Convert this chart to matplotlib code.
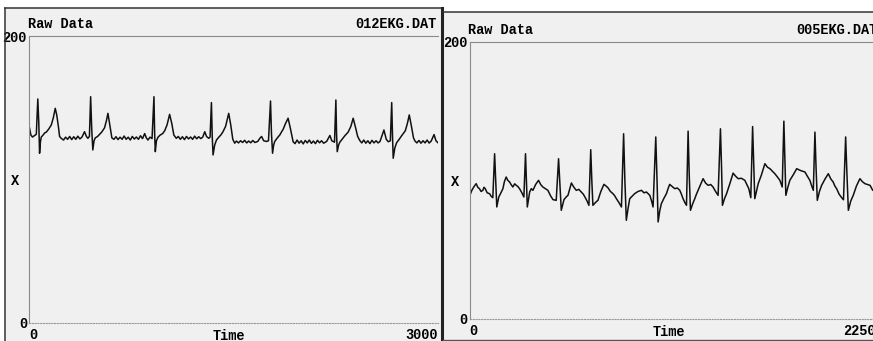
import matplotlib
matplotlib.use('Agg')
import matplotlib.pyplot as plt
from matplotlib.patches import Rectangle
import numpy as np

# (sample, value)
ekg012 = [
    (0, 135.9), (10, 131), (22, 129.6), (35, 130.5), (50, 131.5), (61, 156.1), (68, 140), (74, 118.3),
    (80, 126), (86, 129.5), (100, 131), (112, 132.5), (123, 133), (140, 135), (160, 138), (175, 143),
    (189, 149.6), (200, 145), (212, 137), (221, 130), (233, 128.7),
    (250, 127.5), (265, 129.5), (280, 128), (295, 130), (310, 127.8), (325, 129.8), (340, 128),
    (355, 130.2), (370, 128.3), (385, 129.5), (404, 133.3), (418, 130), (429, 128.7), (440, 130),
    (449, 157.7), (457, 135), (465, 120.6), (474, 127), (483, 129), (500, 130), (515, 131.5),
    (530, 133), (551, 136), (565, 141), (576, 146.1), (590, 138), (605, 129), (620, 128),
    (635, 129.8), (650, 127.8), (665, 129.5), (680, 128), (695, 130.3), (710, 128), (725, 129.5),
    (740, 127.5), (755, 130), (770, 128.2), (785, 129.6), (800, 128), (815, 130.5), (830, 128.5),
    (846, 132), (858, 129), (870, 127.5), (885, 129.5), (900, 128.5), (914, 157.7), (919, 132),
    (924, 119.4), (932, 127), (944, 129.5), (960, 131), (978, 132), (993, 134), (1010, 138),
    (1029, 145.4), (1045, 139), (1060, 131), (1078, 128.7),
    (1093, 130), (1108, 128), (1123, 129.8), (1138, 127.8), (1153, 130), (1168, 128.3), (1183, 129.6),
    (1198, 128), (1213, 130.2), (1228, 128.4), (1243, 129.8), (1258, 128.5), (1272, 129.5),
    (1287, 133.3), (1300, 130), (1316, 128.7), (1326, 129.5), (1336, 153.6), (1342, 130), (1348, 117.1),
    (1360, 124), (1373, 127.5), (1390, 129.5), (1405, 131), (1421, 133.3), (1440, 137), (1463, 146.1),
    (1478, 138), (1493, 128), (1507, 125.3),
    (1520, 126.8), (1535, 125.5), (1550, 127), (1565, 125.8), (1580, 127.3), (1595, 125.5), (1610, 126.8),
    (1625, 125.6), (1640, 127.2), (1655, 125.8), (1676, 126.5), (1690, 128.5), (1704, 130), (1720, 127),
    (1740, 126.5), (1755, 127), (1770, 154.7), (1777, 132), (1785, 118.3), (1793, 124), (1801, 126.5),
    (1820, 129), (1838, 131), (1850, 133), (1863, 135), (1880, 139), (1899, 142.7), (1915, 136),
    (1936, 126.3),
    (1950, 125), (1965, 127.5), (1980, 125.3), (1995, 127), (2010, 124.8), (2025, 127.2), (2040, 125.5),
    (2055, 127.5), (2070, 125.2), (2085, 126.8), (2100, 125), (2115, 127.3), (2130, 125.6), (2145, 127),
    (2160, 125.3), (2182, 126.5), (2206, 130.7), (2220, 127), (2240, 126), (2250, 155.4), (2255, 132),
    (2260, 119.4), (2270, 124), (2279, 126), (2295, 128), (2316, 130.5), (2340, 133), (2360, 137),
    (2377, 142.7), (2395, 136), (2410, 130), (2426, 127.1),
    (2440, 125.5), (2455, 127.5), (2470, 125.3), (2485, 127), (2500, 125), (2515, 127.3), (2530, 125.5),
    (2545, 127), (2560, 125.5), (2574, 126.5), (2590, 131), (2603, 134.5), (2620, 128), (2635, 126.3),
    (2650, 127), (2660, 153.6), (2666, 130), (2671, 114.8), (2683, 122), (2696, 125.6), (2715, 128),
    (2733, 130.5), (2760, 134), (2775, 139), (2789, 145), (2805, 137), (2820, 129), (2831, 126.8),
    (2845, 125.5), (2860, 127.2), (2875, 125.3), (2890, 127), (2905, 125.5), (2920, 127.5), (2935, 125.4),
    (2950, 126.8), (2971, 131.3), (2985, 127), (3000, 125.6),
]

ekg005 = [
    (0, 88.5), (13, 92.8), (25, 95.5), (37, 97.6), (46, 95), (55, 94.0), (64, 92), (74, 92.8), (80, 95),
    (87, 94.0), (98, 91), (111, 90.4), (120, 88.5), (129, 87.5), (139, 119.2), (145, 100), (151, 80.8),
    (162, 88.0), (172, 90.5), (185, 94.0), (193, 99), (203, 102.4), (212, 100), (222, 98.8), (230, 97),
    (240, 95.2), (250, 97.5), (259, 96.4), (268, 95.5), (277, 94.0), (290, 91), (301, 88.0), (310, 119.2),
    (315, 100), (320, 80.8), (333, 91.6), (342, 94), (351, 92.8), (366, 97), (382, 100.0), (394, 97),
    (406, 95.2), (420, 94), (434, 92.8), (448, 89), (462, 86.1), (480, 85.6), (493, 115.6), (500, 98),
    (508, 78.4), (523, 86.1), (535, 88), (545, 89.2), (555, 94), (564, 98.1), (578, 95), (591, 92.8),
    (605, 93.5), (619, 91.6), (630, 90), (641, 87.5), (651, 85), (661, 82.0), (671, 122.1), (677, 100),
    (683, 82.0), (697, 84), (711, 85.6), (727, 92), (744, 97.1), (755, 96), (766, 94.7), (780, 92),
    (794, 90.4), (803, 89), (813, 86.8), (827, 84), (841, 80.8), (853, 133.6), (860, 100), (868, 71.2),
    (878, 80), (887, 86.8), (900, 88.5), (914, 90.4), (933, 92), (952, 92.8), (966, 91), (979, 91.6),
    (988, 90.5), (998, 89.2), (1008, 85), (1016, 80.8), (1031, 131.3), (1038, 100), (1044, 70.0),
    (1053, 78), (1062, 83.2), (1076, 87), (1090, 90.4), (1099, 94), (1108, 97.1), (1122, 95.5),
    (1136, 94.0), (1150, 94.5), (1164, 92.8), (1173, 90), (1182, 86.8), (1192, 84), (1201, 82.0),
    (1210, 135.5), (1216, 105), (1223, 78.4), (1235, 83), (1247, 86.8), (1256, 90), (1265, 92.8),
    (1279, 97), (1293, 101.2), (1307, 98), (1321, 96.4), (1335, 97), (1348, 95.2), (1362, 92),
    (1376, 89.2), (1389, 137.2), (1395, 110), (1400, 82.0), (1412, 87), (1423, 90.4), (1441, 97.6),
    (1459, 105.2), (1473, 103), (1487, 101.2), (1505, 101.5), (1524, 100.0), (1535, 97), (1546, 94.0),
    (1557, 87.5), (1567, 138.8), (1573, 112), (1579, 86.8), (1598, 97.6), (1616, 104), (1635, 112.0),
    (1649, 109.5), (1663, 108.4), (1677, 106.5), (1690, 104.8), (1704, 102.5), (1718, 100.0),
    (1731, 95.2), (1740, 142.7), (1746, 115), (1751, 89.2), (1762, 95), (1773, 100.0), (1792, 104),
    (1811, 108.4), (1834, 107), (1857, 106.0), (1870, 103), (1884, 100.0), (1894, 96), (1903, 92.8),
    (1912, 134.8), (1918, 110), (1925, 85.6), (1937, 92), (1949, 96.4), (1968, 101), (1986, 104.8),
    (2000, 101), (2013, 98.8), (2022, 96), (2032, 94.0), (2046, 90), (2060, 87.5), (2070, 86),
    (2082, 131.3), (2089, 105), (2097, 78.4), (2110, 85), (2124, 89.2), (2142, 96), (2161, 101.2),
    (2175, 99), (2189, 97.6), (2203, 97), (2217, 96.4), (2232, 92.8), (2250, 94.0),
]

y_ticks = [0, 200]
x_ticks012 = [0, 3000]
x_ticks005 = [0, 2250]

W, H = 873, 341
plt.rcParams['font.family'] = ['Liberation Mono', 'DejaVu Sans Mono']
plt.rcParams['font.weight'] = 'bold'
plt.rcParams['font.size'] = 9.8

fig = plt.figure(figsize=(W / 100, H / 100), dpi=100, facecolor='white')


def px_rect(x0, y0, x1, y1):
    # pixel box (top-left origin) -> figure fraction
    return [x0 / W, 1 - y1 / H, (x1 - x0) / W, (y1 - y0) / H]


def put(x, y, s, ha='left'):
    fig.text(x / W, 1 - y / H, s, ha=ha, va='center')


# window backgrounds
bg = fig.add_axes([0, 0, 1, 1])
bg.set_xlim(0, W)
bg.set_ylim(H, 0)
bg.axis('off')
bg.add_patch(Rectangle((5, 8), 436, 333, fc='#f0f0f0', ec='none'))
bg.add_patch(Rectangle((443, 12), 430, 328, fc='#f0f0f0', ec='none'))


def ekg_axes(rect, data, xticks):
    ax = fig.add_axes(rect)
    ax.patch.set_visible(False)
    t, v = np.array(data).T
    ax.plot(t, v, color='#111111', lw=1.1)
    ax.set_xlim(xticks[0], xticks[-1])
    ax.set_ylim(0, 200)
    ax.spines['right'].set_visible(False)
    for s in ('left', 'top'):
        ax.spines[s].set_color('#8a8a8a')
        ax.spines[s].set_linewidth(0.8)
    ax.spines['bottom'].set_color('#9a9a9a')
    ax.spines['bottom'].set_linestyle((0, (1, 1.5)))
    ax.spines['bottom'].set_linewidth(0.8)
    ax.set_yticks(y_ticks, [str(y) for y in y_ticks])
    ax.set_xticks(xticks, [str(x) for x in xticks])
    ax.tick_params(axis='y', length=0, pad=1.8)
    ax.tick_params(axis='x', length=0, pad=3.5)
    lbls = ax.get_xticklabels()
    lbls[0].set_ha('left')
    lbls[-1].set_ha('right')
    return ax


axL = ekg_axes(px_rect(29.5, 36, 438, 323), ekg012, x_ticks012)
axR = ekg_axes(px_rect(469.5, 41.7, 876, 319), ekg005, x_ticks005)

put(28, 24.5, 'Raw Data')
put(437, 24.5, '012EKG.DAT', ha='right')
put(15, 180.7, 'X', ha='center')
put(229, 335.5, 'Time', ha='center')

put(468, 30.5, 'Raw Data')
put(796, 30.5, '005EKG.DAT')
put(455, 181.7, 'X', ha='center')
put(669, 332, 'Time', ha='center')

# window borders on top
ov = fig.add_axes([0, 0, 1, 1], zorder=10)
ov.set_xlim(0, W)
ov.set_ylim(H, 0)
ov.axis('off')
ov.plot([5, 5], [8, H], color='#333333', lw=1.1)
ov.plot([5, 441], [8, 8], color='#333333', lw=1.1)
ov.plot([441.5, 441.5], [8, H], color='#222222', lw=2.2)
ov.plot([443, W], [12, 12], color='#333333', lw=1.1)
ov.plot([443, W], [340, 340], color='#555555', lw=1.0)

fig.savefig('out.png', dpi=100, facecolor='white')
